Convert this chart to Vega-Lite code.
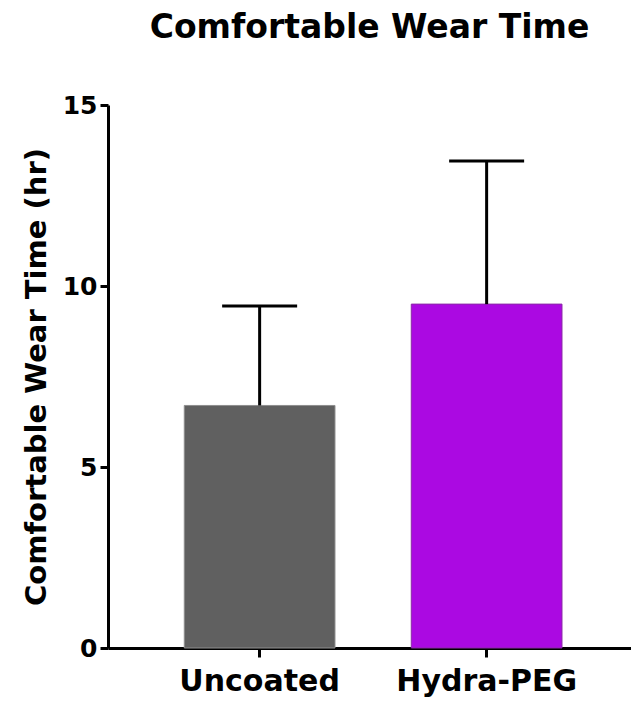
{
  "$schema": "https://vega.github.io/schema/vega-lite/v6.json",
  "width": 523,
  "height": 543,
  "autosize": {"type": "none"},
  "padding": {"left": 108, "top": 105, "right": 0, "bottom": 55},
  "title": {
    "text": "Comfortable Wear Time",
    "font": "DejaVu Sans",
    "fontSize": 33,
    "fontWeight": "bold",
    "color": "black",
    "anchor": "middle",
    "frame": "group",
    "baseline": "alphabetic",
    "offset": 22
  },
  "data": {
    "values": [
      {"group": "Uncoated", "value": 6.7, "upper": 9.45},
      {"group": "Hydra-PEG", "value": 9.5, "upper": 13.45}
    ]
  },
  "encoding": {
    "x": {
      "field": "group",
      "type": "nominal",
      "sort": ["Uncoated", "Hydra-PEG"],
      "scale": {"paddingInner": 0.336, "paddingOuter": 0.32, "align": 0.525},
      "axis": {
        "title": null,
        "labelAngle": 0,
        "labelFont": "DejaVu Sans",
        "labelFontSize": 30,
        "labelFontWeight": "bold",
        "labelColor": "black",
        "labelBaseline": "alphabetic",
        "labelPadding": 33,
        "labelLimit": 0,
        "tickSize": 9,
        "tickWidth": 3,
        "tickColor": "black",
        "domainWidth": 3,
        "domainColor": "black"
      }
    }
  },
  "layer": [
    {
      "mark": {"type": "bar", "strokeWidth": 1},
      "encoding": {
        "y": {
          "field": "value",
          "type": "quantitative",
          "scale": {"domain": [0, 15], "nice": false},
          "axis": {
            "title": "Comfortable Wear Time (hr)",
            "titleFont": "DejaVu Sans",
            "titleFontSize": 29,
            "titleFontWeight": "bold",
            "titleColor": "black",
            "titleAngle": -90,
            "titleAlign": "center",
            "titleBaseline": "middle",
            "titleX": -72,
            "titleY": 271.5,
            "values": [0, 5, 10, 15],
            "grid": false,
            "labelFont": "DejaVu Sans",
            "labelFontSize": 25,
            "labelFontWeight": "bold",
            "labelColor": "black",
            "labelPadding": 3,
            "tickSize": 8,
            "tickWidth": 3,
            "tickColor": "black",
            "domainWidth": 3,
            "domainColor": "black"
          }
        },
        "color": {
          "field": "group",
          "type": "nominal",
          "scale": {"domain": ["Uncoated", "Hydra-PEG"], "range": ["#606060", "#ab09e2"]},
          "legend": null
        },
        "stroke": {
          "field": "group",
          "type": "nominal",
          "scale": {"domain": ["Uncoated", "Hydra-PEG"], "range": ["#8e8e8e", "#8a2ba6"]},
          "legend": null
        }
      }
    },
    {
      "mark": {"type": "rule", "color": "black", "strokeWidth": 3},
      "encoding": {
        "y": {"field": "value", "type": "quantitative"},
        "y2": {"field": "upper"}
      }
    },
    {
      "mark": {"type": "tick", "color": "black", "opacity": 1, "thickness": 3, "size": 75},
      "encoding": {
        "y": {"field": "upper", "type": "quantitative"}
      }
    }
  ],
  "config": {"view": {"stroke": null}}
}
